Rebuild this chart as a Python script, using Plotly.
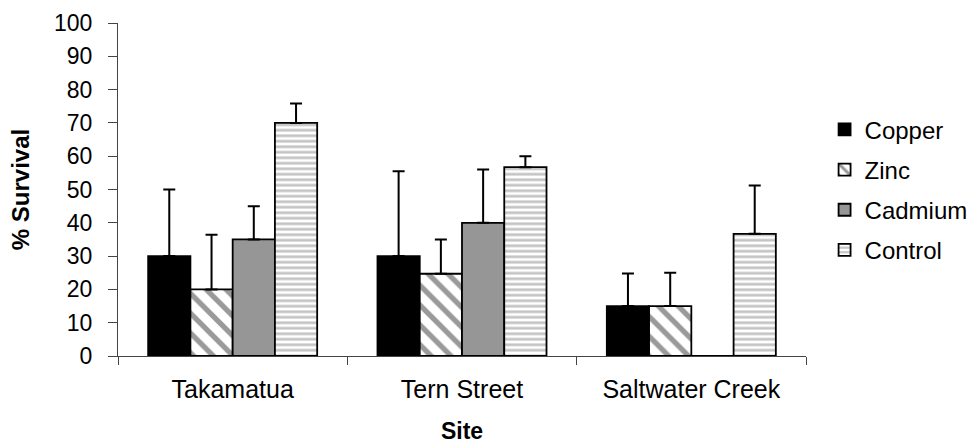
import plotly.graph_objects as go

sites = ["Takamatua", "Tern Street", "Saltwater Creek"]
metals = ["Copper", "Zinc", "Cadmium", "Control"]

copper = [30, 30, 15]
zinc = [20, 24.7, 15]
cadmium = [35, 40, 0]
control = [70, 56.7, 36.7]

copper_err = [20, 25.5, 9.8]
zinc_err = [16.4, 10.3, 10]
cadmium_err = [10, 16, 0]
control_err = [5.8, 3.3, 14.5]

y_ticks = [0, 10, 20, 30, 40, 50, 60, 70, 80, 90, 100]

series = [
    (metals[0], copper, copper_err, dict(color="#000000")),
    (metals[1], zinc, zinc_err,
     dict(color="#ffffff",
          pattern=dict(shape="\\", fgcolor="#9a9a9a", bgcolor="#ffffff",
                       size=14, solidity=0.38, fillmode="replace"))),
    (metals[2], cadmium, cadmium_err, dict(color="#969696")),
    (metals[3], control, control_err,
     dict(color="#ffffff",
          pattern=dict(shape="-", fgcolor="#c4c4c4", bgcolor="#ffffff",
                       size=5.5, solidity=0.5, fillmode="replace"))),
]

fig = go.Figure()
for name, vals, errs, marker in series:
    marker = dict(marker)
    marker["line"] = dict(color="#000000", width=1.8)
    fig.add_trace(go.Bar(
        name=name, x=sites, y=vals,
        marker=marker,
        legendgroup=name,
        error_y=dict(type="data", symmetric=False, array=errs,
                     arrayminus=[0] * len(errs),
                     color="#000000", thickness=2, width=6),
    ))

font_family = "Liberation Sans, Arial, sans-serif"

fig.update_layout(
    width=980, height=444,
    margin=dict(l=118, r=174, t=23, b=88, autoexpand=False),
    paper_bgcolor="#ffffff", plot_bgcolor="#ffffff",
    barmode="group", bargap=0.263, bargroupgap=0,
    font=dict(family=font_family, color="#000000"),
    showlegend=True,
    legend=dict(
        x=1.027, y=0.747, xanchor="left", yanchor="top",
        font=dict(size=24, family=font_family, color="#000000"),
        traceorder="grouped", tracegroupgap=6,
        bgcolor="rgba(0,0,0,0)", borderwidth=0,
    ),
    xaxis=dict(
        type="category", automargin=False,
        showline=True, linecolor="#444444", linewidth=1,
        ticks="outside", tickson="boundaries", ticklen=8,
        tickcolor="#444444", tickwidth=1,
        tickfont=dict(size=25, family=font_family),
        ticklabelstandoff=11,
        showgrid=False, zeroline=False,
        title=dict(text="<b>Site</b>", font=dict(size=23, family=font_family),
                   standoff=20),
    ),
    yaxis=dict(
        range=[0, 100], tickvals=y_ticks, automargin=False,
        showline=True, linecolor="#444444", linewidth=1,
        ticks="outside", ticklen=9, tickcolor="#444444", tickwidth=1,
        tickfont=dict(size=23, family=font_family),
        ticklabelstandoff=11,
        showgrid=False, zeroline=False,
        title=dict(text="<b>% Survival</b>", font=dict(size=24, family=font_family),
                   standoff=17),
    ),
)

fig.write_html("out.html")
